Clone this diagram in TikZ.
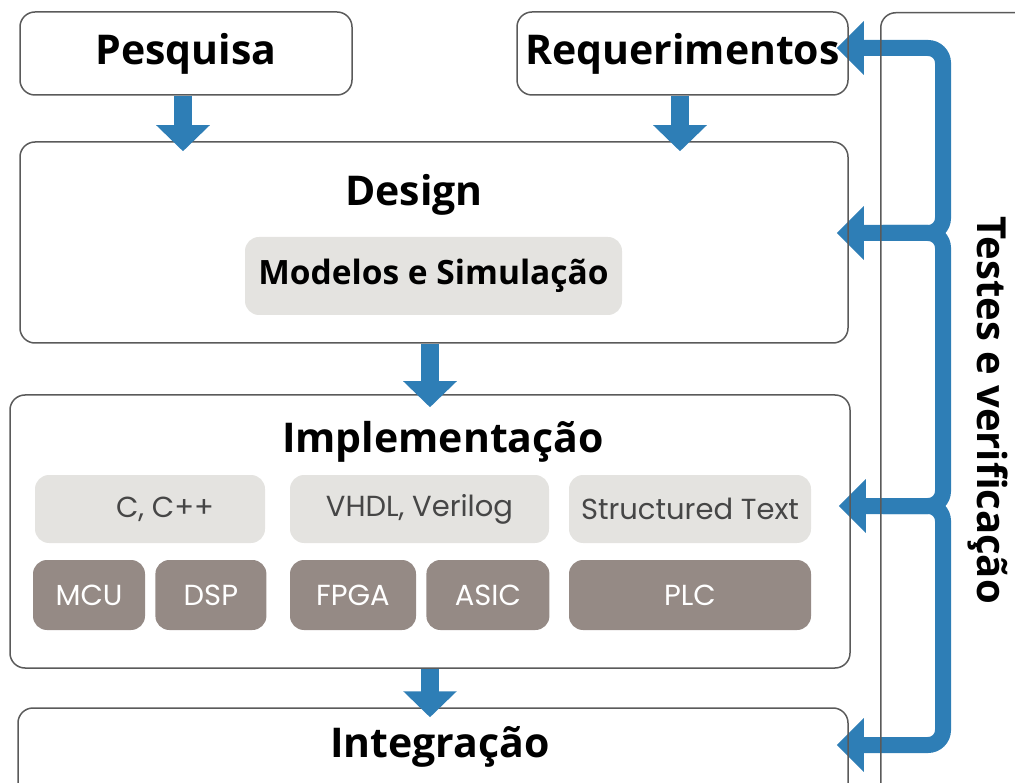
\documentclass[tikz,border=0pt]{standalone}
\usepackage{fontspec}
\setmainfont{Open Sans}
\newfontfamily\labelfont{Poppins}
\usetikzlibrary{arrows.meta, positioning}
\definecolor{flowblue}{RGB}{46,126,182}
\definecolor{boxgray}{RGB}{90,90,90}
\definecolor{langgray}{RGB}{228,227,224}
\definecolor{chipgray}{RGB}{149,138,133}
\definecolor{langtext}{RGB}{70,70,70}
\pgfdeclarelayer{back}
\pgfsetlayers{back,main}
\tikzset{
    stage/.style={rectangle, draw=boxgray, line width=1.5pt, rounded corners=15pt, inner sep=0pt},
    title/.style={font=\bfseries\fontsize{41}{43}\selectfont, inner sep=0pt},
    lang/.style={rectangle, fill=langgray, rounded corners=14pt, minimum height=68pt, inner sep=0pt, text=langtext, font=\labelfont\fontsize{29}{31}\selectfont},
    chip/.style={rectangle, fill=chipgray, rounded corners=14pt, minimum height=70pt, inner sep=0pt, text=white, font=\labelfont\fontsize{29}{31}\selectfont},
    down/.style={line width=18pt, draw=flowblue, -{Triangle[width=52pt, length=26pt]}},
    branch/.style={line width=16pt, draw=flowblue, rounded corners=15pt, -{Triangle[width=52pt, length=27pt]}, shorten >=-12pt}
}

\begin{document}
\begin{tikzpicture}[x=1pt, y=-1pt]
    \useasboundingbox (0,0) rectangle (1015,783);
    \clip (0,0) rectangle (1015,783);

    % --- Top inputs ---
    \node[stage, minimum width=332pt, minimum height=83pt, title] (pesquisa) at (186,53.5) {Pesquisa};
    \node[stage, minimum width=331pt, minimum height=83pt, title] (requer) at (682.5,53.5) {Requerimentos};

    % --- Design ---
    \node[stage, minimum width=828pt, minimum height=201pt] (design) at (434,242.5) {};
    \node[title] (designtitle) at (414,195) {Design};
    \node[lang, minimum width=377pt, minimum height=78pt, text=black, font=\bfseries\fontsize{33.5}{35}\selectfont] (modelos) at (433.5,276) {Modelos e Simulação};

    % --- Implementation ---
    \node[stage, minimum width=840pt, minimum height=273pt] (impl) at (430,531.5) {};
    \node[title] (impltitle) at (443,442) {Implementação};

    % languages
    \node[lang, minimum width=230pt] (clang) at (150,509) {\hspace*{30pt}C, C++};
    \node[lang, minimum width=259pt] (hdl) at (419.5,509) {VHDL, Verilog};
    \node[lang, minimum width=242pt] (stext) at (690,509) {Structured Text};

    % targets
    \node[chip, minimum width=112pt] (mcu) at (89,595) {MCU};
    \node[chip, minimum width=111pt, right=10pt of mcu] (dsp) {DSP};
    \node[chip, minimum width=126pt] (fpga) at (353,595) {FPGA};
    \node[chip, minimum width=123pt, right=10pt of fpga] (asic) {ASIC};
    \node[chip, minimum width=242pt] (plc) at (690,595) {PLC};

    % --- Integration ---
    \node[stage, minimum width=830pt, minimum height=104pt] (integ) at (433,760) {};
    \node[title] (integtitle) at (440,747) {Integração};

    % --- Tests column ---
    \node[stage, minimum width=200pt, minimum height=850pt, anchor=north west] (testes) at (880,12) {};
    \node[title, font=\bfseries\fontsize{40}{42}\selectfont, rotate=-90] (testestitle) at (988,410) {Testes e verificação};

    % main flow
    \draw[down] ([xshift=-3pt]pesquisa.south) -- ([xshift=-3pt,yshift=-10pt]pesquisa.south |- design.north);
    \draw[down] ([xshift=-2.5pt]requer.south) -- ([xshift=-2.5pt,yshift=-10pt]requer.south |- design.north);
    \draw[down] ([xshift=-4pt]design.south) -- ([xshift=-4pt,yshift=-13pt]design.south |- impl.north);
    \draw[down] (impl.south) -- ([yshift=-10pt]impl.south |- integ.north);

    % feedback from the tests, under the box outlines
    \coordinate (bA) at (943,48);
    \coordinate (bB) at (943,233);
    \coordinate (bC) at (943,506);
    \coordinate (bD) at (943,745);
    \begin{pgfonlayer}{back}
        \draw[branch, {Triangle[width=52pt, length=27pt]}-{Triangle[width=52pt, length=27pt]}, shorten <=-12pt]
            (requer.east |- bA) -- (bA) -- (bB) -- (design.east |- bB);
        \draw[branch] ([xshift=-60pt]bB) -- (bB) -- (bC) -- (impl.east |- bC);
        \draw[branch] ([xshift=-60pt]bC) -- (bC) -- (bD) -- (integ.east |- bD);
    \end{pgfonlayer}
\end{tikzpicture}
\end{document}
